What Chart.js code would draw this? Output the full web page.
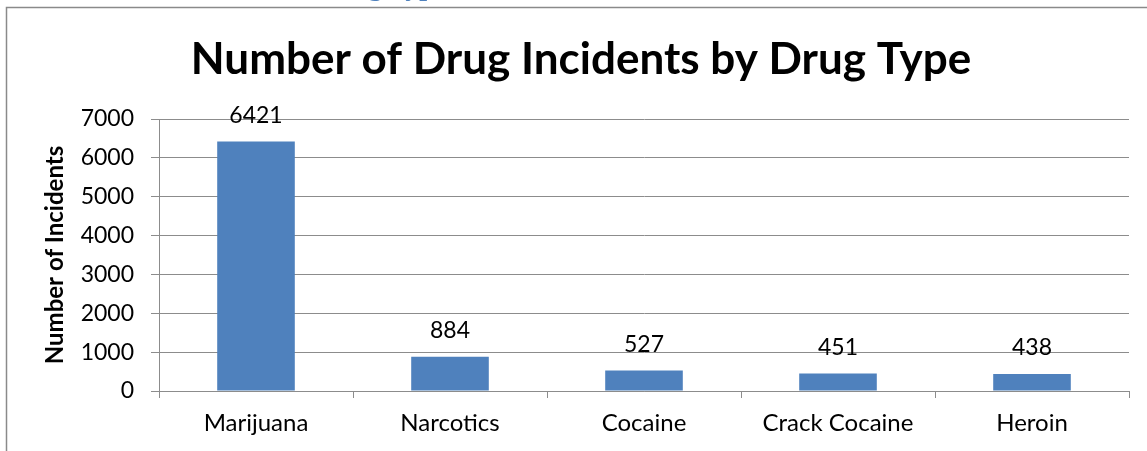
<!DOCTYPE html>
<html>
<head>
<meta charset="utf-8">
<script src="https://cdn.jsdelivr.net/npm/chart.js@4.4.1/dist/chart.umd.min.js"></script>
<style>
  html, body { margin: 0; padding: 0; background: #fff; overflow: hidden; }
  #wrap { position: relative; width: 1147px; height: 451px; }
  canvas { position: absolute; left: 0; top: 0; }
  #head { position: absolute; left: 320px; top: -29px; font-family: "Liberation Serif", serif; font-weight: bold; font-size: 28px; color: #4F81BD; white-space: nowrap; line-height: 30px; }
</style>
</head>
<body>
<div id="wrap">
  <canvas id="c" width="1147" height="451"></canvas>
  <div id="head">Drug Type</div>
</div>
<script>
const categories = ["Marijuana", "Narcotics", "Cocaine", "Crack Cocaine", "Heroin"];
const incidents = [6421, 884, 527, 451, 438];
const yTicks = [0, 1000, 2000, 3000, 4000, 5000, 6000, 7000];
const chartTitle = "Number of Drug Incidents by Drug Type";
const yTitle = "Number of Incidents";

const FONT = "Lato, 'Open Sans', sans-serif";
const GRID = "#8c8c8c";

const framePlugin = {
  id: 'frame',
  beforeDraw(chart) {
    const ctx = chart.ctx;
    ctx.save();
    ctx.fillStyle = '#fff';
    ctx.fillRect(0, 0, chart.width, chart.height);
    ctx.strokeStyle = '#8a8a8a';
    ctx.lineWidth = 1.5;
    ctx.beginPath();
    ctx.moveTo(6.5, chart.height);
    ctx.lineTo(6.5, 7.5);
    ctx.lineTo(chart.width, 7.5);
    ctx.stroke();
    // chart title
    ctx.font = "bold 44px " + FONT;
    ctx.fillStyle = '#000';
    ctx.textAlign = 'center';
    ctx.textBaseline = 'alphabetic';
    ctx.fillText(chartTitle, 581, 74);
    ctx.restore();
  }
};

const labelPlugin = {
  id: 'valueLabels',
  afterDatasetsDraw(chart) {
    const ctx = chart.ctx;
    const meta = chart.getDatasetMeta(0);
    ctx.save();
    ctx.font = "23px " + FONT;
    ctx.fillStyle = '#000';
    ctx.textAlign = 'center';
    ctx.textBaseline = 'middle';
    meta.data.forEach((bar, i) => {
      ctx.fillText(String(incidents[i]), bar.x, bar.y - 26);
    });
    ctx.restore();
  }
};

new Chart(document.getElementById('c'), {
  type: 'bar',
  data: {
    labels: categories,
    datasets: [{
      data: incidents,
      backgroundColor: '#4F81BD',
      borderWidth: 0,
      barPercentage: 0.4,
      categoryPercentage: 1.0
    }]
  },
  options: {
    responsive: false,
    animation: false,
    devicePixelRatio: 1,
    layout: { padding: { left: 8, right: 18, top: 119, bottom: 0 } },
    plugins: {
      legend: { display: false },
      tooltip: { enabled: false },
      title: { display: false }
    },
    scales: {
      x: {
        grid: { display: true, drawOnChartArea: false, drawTicks: true, tickLength: 7, color: GRID, offset: true },
        border: { display: true, color: GRID, width: 1 },
        ticks: { color: '#000', font: { family: FONT, size: 24 }, padding: 11, maxRotation: 0 },
        afterFit(s) { s.height = 60; }
      },
      y: {
        min: 0,
        max: 7000,
        afterBuildTicks(s) { s.ticks = yTicks.map(v => ({ value: v })); },
        grid: { color: GRID, tickLength: 8, drawTicks: true },
        border: { display: true, color: GRID, width: 1 },
        ticks: { color: '#000', font: { family: FONT, size: 23 }, padding: 17, callback: v => String(v) },
        title: {
          display: true,
          text: yTitle,
          color: '#000',
          font: { family: FONT, size: 24, weight: 'bold' },
          padding: { top: 33, bottom: 0 }
        },
        afterFit(s) { s.width = 151; }
      }
    }
  },
  plugins: [framePlugin, labelPlugin]
});
</script>
</body>
</html>
